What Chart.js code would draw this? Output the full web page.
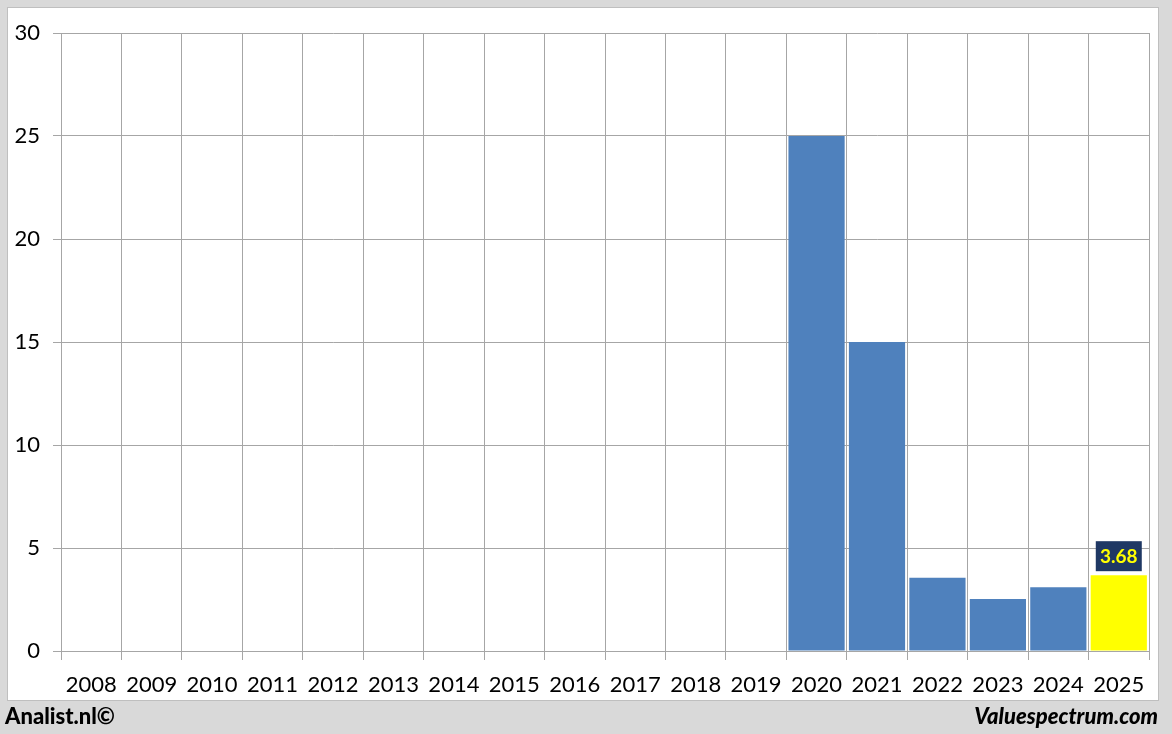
<!DOCTYPE html>
<html>
<head>
<meta charset="utf-8">
<script src="https://cdn.jsdelivr.net/npm/chart.js@4.4.0/dist/chart.umd.min.js"></script>
<style>
html,body{margin:0;padding:0;background:#d9d9d9;}
#wrap{position:absolute;left:0;top:0;width:1172px;height:734px;}
</style>
</head>
<body>
<div id="wrap"><canvas id="c" width="1172" height="734"></canvas></div>
<script>
const categories = ["2008","2009","2010","2011","2012","2013","2014","2015","2016","2017","2018","2019","2020","2021","2022","2023","2024","2025"];
const values = [null,null,null,null,null,null,null,null,null,null,null,null,25,15,3.56,2.52,3.1,3.68];
const yTicks = [0,5,10,15,20,25,30];
const lastLabel = "3.68";

const barColors = categories.map((c,i)=> i===categories.length-1 ? "#ffff00" : "#4f81bd");
const FONT = "Lato, 'Open Sans', sans-serif";

const framePlugin = {
  id:'frame',
  beforeDraw(chart){
    const ctx = chart.ctx;
    ctx.save();
    ctx.fillStyle = '#d9d9d9';
    ctx.fillRect(0,0,chart.width,chart.height);
    ctx.fillStyle = '#ffffff';
    ctx.fillRect(7,7,1152,694);
    ctx.strokeStyle = '#bfbfbf';
    ctx.lineWidth = 1;
    ctx.strokeRect(7.5,7.5,1151,693);
    ctx.restore();
  },
  afterDraw(chart){
    const ctx = chart.ctx;
    ctx.save();
    ctx.fillStyle = '#000';
    ctx.textBaseline = 'middle';
    ctx.font = "900 22px " + FONT;
    ctx.textAlign = 'left';
    ctx.fillText("Analist.nl©", 5, 717);
    ctx.font = "italic 900 22px " + FONT;
    ctx.textAlign = 'right';
    ctx.fillText("Valuespectrum.com", 1158, 717);
    ctx.restore();
  }
};

const labelPlugin = {
  id:'lastlabel',
  afterDatasetsDraw(chart){
    const meta = chart.getDatasetMeta(0);
    const bar = meta.data[meta.data.length-1];
    if(!bar) return;
    const ctx = chart.ctx;
    ctx.save();
    const w = 46, h = 30;
    const x = bar.x - w/2, y = bar.y - 4 - h;
    ctx.fillStyle = '#1f3864';
    ctx.fillRect(x, y, w, h);
    ctx.fillStyle = '#ffff00';
    ctx.font = "bold 19px " + FONT;
    ctx.textAlign = 'center';
    ctx.textBaseline = 'middle';
    ctx.fillText(lastLabel, bar.x, y + h/2 + 1);
    ctx.restore();
  }
};

new Chart(document.getElementById('c'), {
  type:'bar',
  data:{
    labels: categories,
    datasets:[{
      data: values,
      backgroundColor: barColors,
      borderWidth: 0,
      barPercentage: 0.93,
      categoryPercentage: 1.0
    }]
  },
  options:{
    responsive:false,
    animation:false,
    devicePixelRatio:1,
    layout:{padding:{left:0, top:33, right:23, bottom:0}},
    plugins:{legend:{display:false}, tooltip:{enabled:false}},
    scales:{
      x:{
        offset:true,
        grid:{offset:true, color:'#a6a6a6', lineWidth:1, tickLength:9, drawTicks:true},
        border:{color:'#a6a6a6'},
        ticks:{color:'#000', font:{family:FONT, size:22}, padding:12, maxRotation:0, autoSkip:false},
        afterFit(s){ s.height = 83; }
      },
      y:{
        min:0, max:30,
        afterBuildTicks(s){ s.ticks = yTicks.map(v=>({value:v})); },
        grid:{color:'#a6a6a6', lineWidth:1, tickLength:8},
        border:{color:'#a6a6a6'},
        ticks:{color:'#000', font:{family:FONT, size:22}, padding:13},
        afterFit(s){ s.width = 61; }
      }
    }
  },
  plugins:[framePlugin, labelPlugin]
});
</script>
</body>
</html>
